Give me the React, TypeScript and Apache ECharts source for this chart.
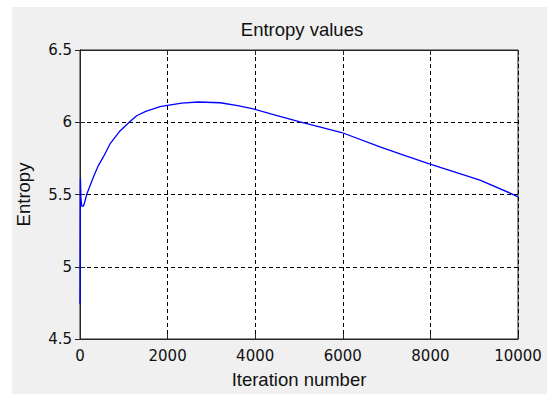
import React, { useEffect, useRef } from "react";
import * as echarts from "echarts";

const titleText = "Entropy values";
const xLabel = "Iteration number";
const yLabel = "Entropy";

const iterations = [0, 10, 20, 40, 80, 110, 152, 304, 419, 533, 685, 913, 1142, 1294, 1500, 1674, 1826, 2000, 2321, 2700, 3200, 3600, 3957, 4500, 5023, 5975, 6849, 7306, 7975, 9132, 9817, 10000];
const entropy = [4.74, 5.61, 5.48, 5.42, 5.42, 5.45, 5.5, 5.62, 5.7, 5.76, 5.85, 5.94, 6.005, 6.045, 6.075, 6.092, 6.108, 6.117, 6.132, 6.14, 6.135, 6.115, 6.092, 6.045, 6.002, 5.929, 5.83, 5.781, 5.712, 5.6, 5.51, 5.484];

const xMin = 0, xMax = 10000, xStep = 2000;
const yMin = 4.5, yMax = 6.5, yStep = 0.5;

export default function App() {
  const ref = useRef<HTMLDivElement>(null);
  useEffect(() => {
    if (!ref.current) return;
    const chart = echarts.init(ref.current, undefined, { renderer: "svg" });
    const tickFont = { fontFamily: "DejaVu Sans", fontSize: 15, color: "#111" };
    const nameFont = { fontFamily: "Liberation Sans", fontSize: 18.5, color: "#111" };
    const gridLine = { show: true, lineStyle: { color: "#000", width: 1, type: [4, 3] as any } };
    const axisLine = { show: true, lineStyle: { color: "#262626", width: 1 } };
    const tick = { show: true, inside: true, length: 5, lineStyle: { color: "#262626", width: 1 } };
    chart.setOption({
      animation: false,
      backgroundColor: "#ffffff",
      graphic: [
        { type: "rect", z: -10, shape: { x: 12, y: 7, width: 535, height: 387 }, style: { fill: "#f0f0f0" } },
      ],
      title: {
        text: titleText,
        left: 297,
        top: 15,
        textAlign: "center",
        textStyle: { ...nameFont, fontWeight: "normal" },
      },
      grid: { left: 80, top: 50, width: 438, height: 292, show: true, backgroundColor: "#ffffff", borderColor: "#262626", borderWidth: 1 },
      xAxis: [
        {
          type: "value", min: xMin, max: xMax, interval: xStep, position: "bottom",
          name: xLabel, nameLocation: "middle", nameGap: 31, nameTextStyle: nameFont,
          axisLine, axisTick: tick, splitLine: gridLine,
          axisLabel: { ...tickFont, margin: 9, formatter: (v: number) => String(v) },
        },
        {
          type: "value", min: xMin, max: xMax, interval: xStep, position: "top",
          axisLine, axisTick: tick, splitLine: { show: false }, axisLabel: { show: false },
        },
      ],
      yAxis: [
        {
          type: "value", min: yMin, max: yMax, interval: yStep, position: "left",
          name: yLabel, nameLocation: "middle", nameGap: 47, nameRotate: 90, nameTextStyle: nameFont,
          axisLine, axisTick: tick, splitLine: gridLine,
          axisLabel: { ...tickFont, margin: 8, formatter: (v: number) => String(v) },
        },
        {
          type: "value", min: yMin, max: yMax, interval: yStep, position: "right",
          axisLine, axisTick: tick, splitLine: { show: false }, axisLabel: { show: false },
        },
      ],
      series: [
        {
          type: "line",
          data: iterations.map((x, i) => [x, entropy[i]]),
          showSymbol: false,
          symbol: "none",
          smooth: false,
          lineStyle: { color: "#0000ff", width: 1.3 },
          z: 5,
        },
      ],
    });
    return () => chart.dispose();
  }, []);
  return <div ref={ref} style={{ position: "fixed", left: 0, top: 0, width: 552, height: 394 }} />;
}
